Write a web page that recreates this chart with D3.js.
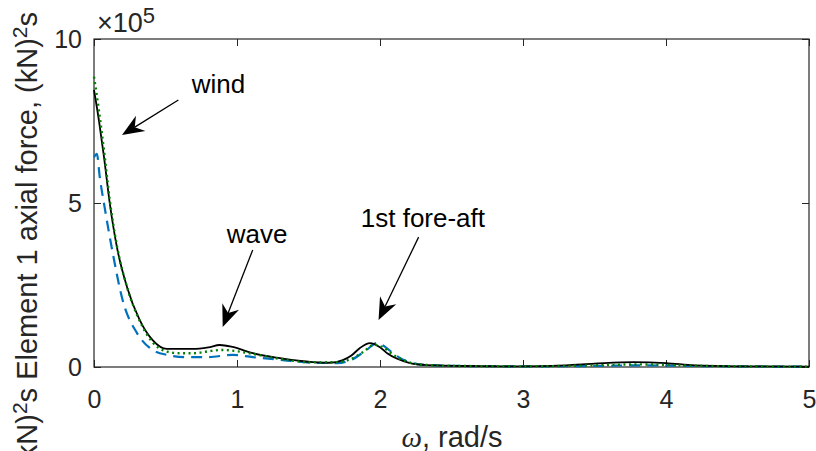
<!DOCTYPE html>
<html>
<head>
<meta charset="utf-8">
<script src="https://cdn.jsdelivr.net/npm/d3@7"></script>
<style>
  body { margin: 0; background: #fff; }
  svg { display: block; font-family: "Liberation Sans", Arial, sans-serif; }
</style>
</head>
<body>
<div class="chart"></div>
<script>
// values are in units of 1e5 (kN)^2 s
var blackW = [0, 0.035, 0.07, 0.11, 0.16, 0.23, 0.32, 0.41, 0.51, 0.6, 0.69, 0.8, 0.88, 0.97, 1.11, 1.3, 1.53, 1.65, 1.74, 1.8, 1.86, 1.93, 2.0, 2.05, 2.12, 2.21, 2.33, 2.6, 3.0, 3.3, 3.5, 3.77, 4.0, 4.2, 4.5, 5.0]
var blackV = [8.45, 7.5, 6.4, 5.0, 3.66, 2.45, 1.43, 0.82, 0.55, 0.55, 0.55, 0.6, 0.67, 0.61, 0.42, 0.27, 0.15, 0.13, 0.21, 0.35, 0.58, 0.73, 0.6, 0.42, 0.25, 0.12, 0.06, 0.03, 0.02, 0.05, 0.1, 0.15, 0.12, 0.05, 0.02, 0.01]

var greenW = [0, 0.035, 0.07, 0.11, 0.16, 0.23, 0.32, 0.41, 0.51, 0.6, 0.7, 0.8, 0.9, 1.0, 1.11, 1.3, 1.53, 1.7, 1.8, 1.88, 1.96, 2.02, 2.1, 2.2, 2.33, 2.6, 3.0, 3.5, 3.8, 4.2, 4.5, 5.0]
var greenV = [8.85, 7.8, 6.6, 5.1, 3.7, 2.45, 1.4, 0.75, 0.47, 0.42, 0.42, 0.48, 0.52, 0.48, 0.4, 0.25, 0.14, 0.15, 0.25, 0.45, 0.68, 0.6, 0.35, 0.15, 0.06, 0.03, 0.02, 0.05, 0.08, 0.04, 0.02, 0.01]

var blueW = [0, 0.02, 0.04, 0.077, 0.13, 0.2, 0.3, 0.39, 0.51, 0.65, 0.79, 0.97, 1.11, 1.3, 1.53, 1.7, 1.8, 1.9, 1.98, 2.04, 2.09, 2.2, 2.33, 2.6, 3.0, 3.5, 3.8, 4.2, 5.0]
var blueV = [6.4, 6.5, 5.8, 4.8, 3.5, 2.04, 1.04, 0.58, 0.37, 0.3, 0.3, 0.37, 0.3, 0.22, 0.13, 0.12, 0.22, 0.5, 0.73, 0.6, 0.42, 0.15, 0.06, 0.03, 0.02, 0.03, 0.05, 0.03, 0.01]

var xTicks = [0, 1, 2, 3, 4, 5]
var yTicks = [0, 5, 10]

// annotations: label, label position, arrow start, arrow tip (data units)
var notes = [
  {text: "wind", lx: 0.87, ly: 8.35, x1: 0.59, y1: 8.14, x2: 0.196, y2: 7.07},
  {text: "wave", lx: 1.14, ly: 3.78, x1: 1.11, y1: 3.57, x2: 0.90, y2: 1.22},
  {text: "1st fore-aft", lx: 2.3, ly: 4.28, x1: 2.27, y1: 3.96, x2: 1.99, y2: 1.43}
]

var W = 816, H = 451
var m = {left: 94, right: 7, top: 39, bottom: 84}

var svg = d3.select(".chart").append("svg")
  .attr("width", W).attr("height", H)

var x = d3.scaleLinear().domain([0, 5]).range([m.left, W - m.right])
var y = d3.scaleLinear().domain([0, 10]).range([H - m.bottom, m.top])

var line = d3.line()
  .x(function(d){ return x(d[0]) })
  .y(function(d){ return y(d[1]) })
  .curve(d3.curveMonotoneX)

function pairs(w, v){ return w.map(function(d, i){ return [d, v[i]] }) }

// axes with inward ticks, box
var xAxis = d3.axisBottom(x).tickValues(xTicks).tickFormat(d3.format("d"))
  .tickSize(-7).tickSizeOuter(0).tickPadding(23)
var yAxis = d3.axisLeft(y).tickValues(yTicks).tickFormat(d3.format("d"))
  .tickSize(-7).tickSizeOuter(0).tickPadding(12)

svg.append("g")
  .attr("transform", "translate(0," + y(0) + ")")
  .call(xAxis)
  .call(function(g){ g.select(".domain").remove() })
  .selectAll("text").style("font-size", "25px").attr("fill", "#262626")

svg.append("g")
  .attr("transform", "translate(" + x(0) + ",0)")
  .call(yAxis)
  .call(function(g){ g.select(".domain").remove() })
  .selectAll("text").style("font-size", "25px").attr("fill", "#262626")

// top & right ticks
svg.append("g").attr("transform", "translate(0," + y(10) + ")")
  .call(d3.axisTop(x).tickValues(xTicks).tickSize(-7).tickFormat(""))
  .call(function(g){ g.select(".domain").remove() })
svg.append("g").attr("transform", "translate(" + x(5) + ",0)")
  .call(d3.axisRight(y).tickValues(yTicks).tickSize(-7).tickFormat(""))
  .call(function(g){ g.select(".domain").remove() })

svg.selectAll(".tick line").attr("stroke", "#262626")

svg.append("rect")
  .attr("x", x(0)).attr("y", y(10))
  .attr("width", x(5) - x(0)).attr("height", y(0) - y(10))
  .attr("fill", "none").attr("stroke", "#262626").attr("stroke-width", 1.2)

// series
var plot = svg.append("g")
plot.append("path").datum(pairs(blueW, blueV))
  .attr("d", line).attr("fill", "none")
  .attr("stroke", "#0072BD").attr("stroke-width", 2.2)
  .attr("stroke-dasharray", "11,7")
plot.append("path").datum(pairs(blackW, blackV))
  .attr("d", line).attr("fill", "none")
  .attr("stroke", "#000").attr("stroke-width", 1.8)
plot.append("path").datum(pairs(greenW, greenV))
  .attr("d", line).attr("fill", "none")
  .attr("stroke", "#008000").attr("stroke-width", 2.4)
  .attr("stroke-dasharray", "2,3.5")

// exponent
var ex = svg.append("text").attr("x", x(0) + 3).attr("y", y(10) - 7)
  .style("font-size", "27px").attr("fill", "#262626")
ex.append("tspan").text("\u00d710")
ex.append("tspan").attr("dy", -9).style("font-size", "22px").text("5")

// annotations
notes.forEach(function(n){
  var x1 = x(n.x1), y1 = y(n.y1), x2 = x(n.x2), y2 = y(n.y2)
  var ang = Math.atan2(y2 - y1, x2 - x1)
  var L = 22, Wd = 9, back = 15
  var bx = x2 - L * Math.cos(ang), by = y2 - L * Math.sin(ang)
  var nx = x2 - back * Math.cos(ang), ny = y2 - back * Math.sin(ang)
  var px = -Math.sin(ang), py = Math.cos(ang)
  svg.append("line")
    .attr("x1", x1).attr("y1", y1).attr("x2", nx).attr("y2", ny)
    .attr("stroke", "#000").attr("stroke-width", 1.3)
  svg.append("path")
    .attr("d", "M" + x2 + "," + y2 +
      "L" + (bx + px * Wd) + "," + (by + py * Wd) +
      "L" + nx + "," + ny +
      "L" + (bx - px * Wd) + "," + (by - py * Wd) + "Z")
    .attr("fill", "#000")
  svg.append("text")
    .attr("x", x(n.lx)).attr("y", y(n.ly))
    .attr("text-anchor", "middle")
    .style("font-size", "26px").attr("fill", "#000")
    .text(n.text)
})

// axis labels
var xl = svg.append("text")
  .attr("x", 452).attr("y", 447)
  .attr("text-anchor", "middle")
  .style("font-size", "29px").attr("fill", "#262626")
xl.append("tspan").style("font-style", "italic").style("font-family", "'Liberation Serif', serif").text("\u03c9")
xl.append("tspan").text(", rad/s")

var yl = svg.append("text")
  .attr("transform", "translate(37,12) rotate(-90)")
  .attr("text-anchor", "end")
  .style("font-size", "29px").attr("fill", "#262626")
yl.append("tspan").text("(kN)")
yl.append("tspan").attr("dy", -10).style("font-size", "21px").text("2")
yl.append("tspan").attr("dy", 10).text("s Element 1 axial force, (kN)")
yl.append("tspan").attr("dy", -10).style("font-size", "21px").text("2")
yl.append("tspan").attr("dy", 10).text("s")
</script>
</body>
</html>
